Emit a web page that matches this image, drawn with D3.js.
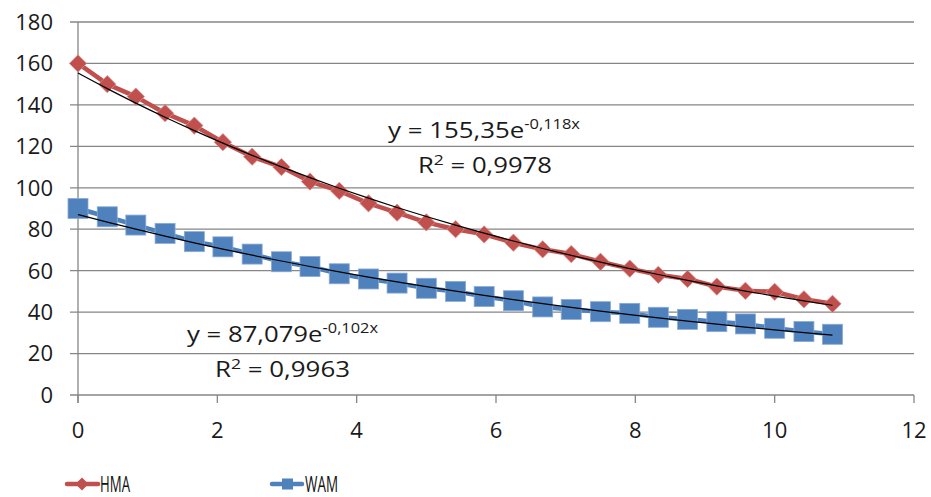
<!DOCTYPE html>
<html lang="en">
<head>
    <meta charset="UTF-8">
    <title>HMA vs WAM</title>
    <style>
        body { margin: 0; background: #fff; }
        svg { display: block; font-family: "Open Sans", sans-serif; }
    </style>
</head>
<body>
    <svg id="chart"></svg>

    <script src="https://d3js.org/d3.v7.min.js"></script>
    <script>
        // x positions of the observations
        const xValues = [0, 0.42, 0.83, 1.25, 1.67, 2.08, 2.5, 2.92, 3.33, 3.75, 4.17, 4.58, 5, 5.42,
            5.83, 6.25, 6.67, 7.08, 7.5, 7.92, 8.33, 8.75, 9.17, 9.58, 10, 10.42, 10.83];
        const hmaValues = [160, 150, 144, 136, 130, 122, 115, 110, 103, 98.5, 92.5, 88, 83.3, 80,
            77.5, 73.5, 70.3, 68, 64.3, 61, 58, 56, 52.3, 50.3, 49.8, 46.2, 44];
        const wamValues = [90, 86, 82, 78, 74, 71.5, 68, 64.3, 62, 58.5, 56, 54, 51.5, 50,
            47.5, 45.5, 42.5, 41.3, 40.2, 39.4, 37.5, 36.5, 35.4, 34.3, 32.2, 30.6, 29.3];
        const xTicks = [0, 2, 4, 6, 8, 10, 12];
        const yTicks = [0, 20, 40, 60, 80, 100, 120, 140, 160, 180];
        // exponential trend lines as printed on the chart: y = a * e^(b x)
        const hmaTrend = { a: 155.35, b: -0.118, eq: "y = 155,35e", exp: "-0,118x", r2: "0,9978" };
        const wamTrend = { a: 87.079, b: -0.102, eq: "y = 87,079e", exp: "-0,102x", r2: "0,9963" };

        const width = 931, height = 497;
        const red = "#C0504D", blue = "#4F81BD", grid = "#868686";

        const svg = d3.select("#chart")
            .attr("width", width)
            .attr("height", height)
            .attr("viewBox", [0, 0, width, height]);

        const x = d3.scaleLinear([0, 12], [78, 914]);
        const y = d3.scaleLinear([0, 180], [395, 22]);

        // horizontal gridlines + y ticks
        svg.append("g")
            .selectAll("line")
            .data(yTicks)
            .join("line")
            .attr("x1", x(0) - 8)
            .attr("x2", x(12))
            .attr("y1", d => y(d))
            .attr("y2", d => y(d))
            .attr("stroke", grid)
            .attr("stroke-width", 1.3);

        // y axis line
        svg.append("line")
            .attr("x1", x(0)).attr("x2", x(0))
            .attr("y1", y(180)).attr("y2", y(0) + 8)
            .attr("stroke", grid).attr("stroke-width", 1.3);

        // x tick marks
        svg.append("g")
            .selectAll("line")
            .data(xTicks)
            .join("line")
            .attr("x1", d => x(d)).attr("x2", d => x(d))
            .attr("y1", y(0)).attr("y2", y(0) + 8)
            .attr("stroke", grid).attr("stroke-width", 1.3);

        // y labels
        svg.append("g")
            .attr("font-size", 22)
            .attr("fill", "#1a1a1a")
            .attr("text-anchor", "end")
            .selectAll("text")
            .data(yTicks)
            .join("text")
            .attr("x", 53)
            .attr("y", d => y(d))
            .attr("dy", "0.36em")
            .text(d => d);

        // x labels
        svg.append("g")
            .attr("font-size", 22)
            .attr("fill", "#1a1a1a")
            .attr("text-anchor", "middle")
            .selectAll("text")
            .data(xTicks)
            .join("text")
            .attr("x", d => x(d))
            .attr("y", 438)
            .text(d => d);

        const hma = xValues.map((d, i) => [d, hmaValues[i]]);
        const wam = xValues.map((d, i) => [d, wamValues[i]]);
        const line = d3.line(d => x(d[0]), d => y(d[1]));

        // series lines
        svg.append("path").attr("d", line(hma))
            .attr("fill", "none").attr("stroke", red).attr("stroke-width", 4.5)
            .attr("stroke-linejoin", "round");
        svg.append("path").attr("d", line(wam))
            .attr("fill", "none").attr("stroke", blue).attr("stroke-width", 4.5)
            .attr("stroke-linejoin", "round");

        // markers
        const diamond = d3.symbol(d3.symbolDiamond2, 190);
        svg.append("g")
            .selectAll("path")
            .data(hma)
            .join("path")
            .attr("transform", d => `translate(${x(d[0])},${y(d[1])})`)
            .attr("d", diamond)
            .attr("fill", red)
            .attr("stroke", "#d98b89")
            .attr("stroke-width", 0.8);

        const sq = 20;
        svg.append("g")
            .selectAll("rect")
            .data(wam)
            .join("rect")
            .attr("x", d => x(d[0]) - sq / 2)
            .attr("y", d => y(d[1]) - sq / 2)
            .attr("width", sq)
            .attr("height", sq)
            .attr("fill", blue)
            .attr("stroke", "#8aaad6")
            .attr("stroke-width", 0.8);

        // trend lines, sampled along the observation x values
        const trend = t => d3.line(d => x(d), d => y(t.a * Math.exp(t.b * d))).curve(d3.curveMonotoneX);
        [hmaTrend, wamTrend].forEach(t => {
            svg.append("path")
                .attr("d", trend(t)(xValues))
                .attr("fill", "none")
                .attr("stroke", "#000")
                .attr("stroke-width", 1.2);
        });

        // trend equation labels
        function equation(t, x0, y1, w1, x2, y2, w2) {
            const g = svg.append("g").attr("font-size", 22).attr("fill", "#1a1a1a");
            const eq = g.append("text").attr("x", x0).attr("y", y1)
                .attr("textLength", w1).attr("lengthAdjust", "spacingAndGlyphs");
            eq.append("tspan").text(t.eq);
            eq.append("tspan").attr("font-size", 14).attr("dy", -9).text(t.exp);
            const r = g.append("text").attr("x", x2).attr("y", y2)
                .attr("textLength", w2).attr("lengthAdjust", "spacingAndGlyphs");
            r.append("tspan").text("R");
            r.append("tspan").attr("font-size", 15).attr("dy", -8).text("2");
            r.append("tspan").attr("dy", 8).text(" = " + t.r2);
        }
        equation(hmaTrend, 388, 138, 192, 418, 173, 134);
        equation(wamTrend, 187, 342, 191, 215, 377, 135);

        // legend
        const legend = svg.append("g");
        legend.append("line").attr("x1", 67).attr("x2", 98).attr("y1", 484).attr("y2", 484)
            .attr("stroke", red).attr("stroke-width", 4.5).attr("stroke-linecap", "round");
        legend.append("path").attr("transform", "translate(82,484)")
            .attr("d", d3.symbol(d3.symbolDiamond2, 110)).attr("fill", red);
        legend.append("text").attr("x", 100).attr("y", 492).attr("font-size", 21)
            .attr("textLength", 30).attr("lengthAdjust", "spacingAndGlyphs").attr("fill", "#111").text("HMA");
        legend.append("line").attr("x1", 272).attr("x2", 302).attr("y1", 484).attr("y2", 484)
            .attr("stroke", blue).attr("stroke-width", 4.5).attr("stroke-linecap", "round");
        legend.append("rect").attr("x", 282).attr("y", 478.5).attr("width", 11).attr("height", 11)
            .attr("fill", blue);
        legend.append("text").attr("x", 305).attr("y", 492).attr("font-size", 21)
            .attr("textLength", 33).attr("lengthAdjust", "spacingAndGlyphs").attr("fill", "#111").text("WAM");
    </script>
</body>
</html>
